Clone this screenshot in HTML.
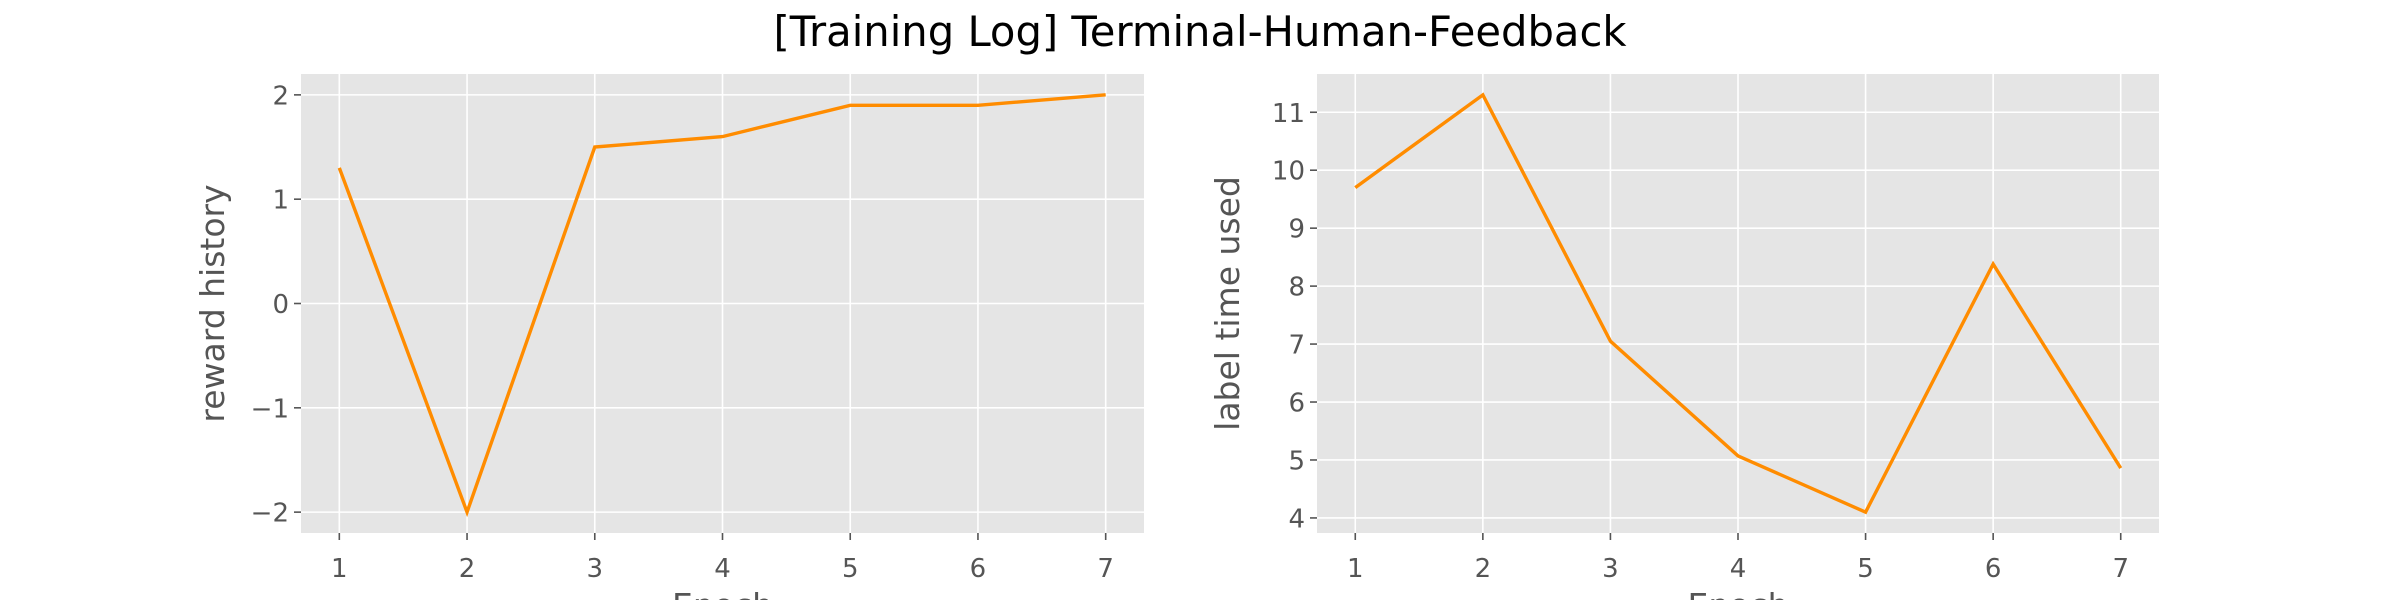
<!DOCTYPE html>
<html><head><meta charset="utf-8"><style>
body{margin:0;background:#fff}
svg text{font-family:"DejaVu Sans","Liberation Sans",sans-serif}
</style></head><body>
<svg id="fig" width="2400" height="600" viewBox="0 0 2400 600" xmlns="http://www.w3.org/2000/svg">
<text x="1200" y="46" font-size="41.7" text-anchor="middle" fill="#000">[Training Log] Terminal-Human-Feedback</text>
</svg>
<script>
const epochs = [1, 2, 3, 4, 5, 6, 7];
const rewardHistory = [1.3, -2.0, 1.5, 1.6, 1.9, 1.9, 2.0];
const labelTimeUsed = [9.7, 11.3, 7.05, 5.07, 4.1, 8.38, 4.86];
const xTicks = [1, 2, 3, 4, 5, 6, 7];
const rewardTicks = [-2, -1, 0, 1, 2];
const timeTicks = [4, 5, 6, 7, 8, 9, 10, 11];

const NS = 'http://www.w3.org/2000/svg';
const svg = document.getElementById('fig');
function mk(tag, attrs, parent) {
  const e = document.createElementNS(NS, tag);
  for (const k in attrs) e.setAttribute(k, attrs[k]);
  (parent || svg).appendChild(e);
  return e;
}
function fmt(v){ return v < 0 ? '\u2212' + Math.abs(v) : String(v); }

function drawPanel(prefix, L, R, T, B, ys, yTicks, ylabel, ylabelX) {
  const g = mk('g', {});
  
  
  const ymin = Math.min(...ys), ymax = Math.max(...ys), pad = (ymax - ymin) * 0.05;
  const y0 = ymin - pad, y1 = ymax + pad;
  const xs = epochs;
  const xmin = Math.min(...xs), xmax = Math.max(...xs), xpad = (xmax - xmin) * 0.05;
  const x0 = xmin - xpad, x1 = xmax + xpad;
  const sx = v => L + (v - x0) / (x1 - x0) * (R - L);
  const sy = v => B - (v - y0) / (y1 - y0) * (B - T);
  const bg = mk('rect', {x: L, y: T, width: R - L, height: B - T, fill: '#e5e5e5'}, g);
  
  
  xTicks.forEach(t => {
    const x = sx(t);
    mk('line', {x1: x, x2: x, y1: T, y2: B, stroke: '#fff', 'stroke-width': 1.6}, g);
    mk('line', {x1: x, x2: x, y1: B, y2: B + 7, stroke: '#555', 'stroke-width': 1.6}, g);
    const tl = mk('text', {x: x, y: B + 44, 'font-size': 26, fill: '#555', 'text-anchor': 'middle'}, g);
    tl.textContent = t;
    
    
  });
  yTicks.forEach(t => {
    const y = sy(t);
    mk('line', {x1: L, x2: R, y1: y, y2: y, stroke: '#fff', 'stroke-width': 1.6}, g);
    mk('line', {x1: L - 7, x2: L, y1: y, y2: y, stroke: '#555', 'stroke-width': 1.6}, g);
    const tl = mk('text', {x: L - 12, y: y + 9.5, 'font-size': 26, fill: '#555', 'text-anchor': 'end'}, g);
    tl.textContent = fmt(t);
    
    
  });
  const pts = xs.map((x, i) => sx(x) + ',' + sy(ys[i])).join(' ');
  const line = mk('polyline', {points: pts, fill: 'none', stroke: '#ff8c00', 'stroke-width': 3.4, 'stroke-linejoin': 'miter'}, g);
  
  
  const yl = mk('text', {x: 0, y: 0, 'font-size': 33, fill: '#555', 'text-anchor': 'middle',
    transform: 'translate(' + ylabelX + ',' + ((T + B) / 2) + ') rotate(-90)'}, g);
  yl.textContent = ylabel;
  
  
  const xl = mk('text', {x: (L + R) / 2, y: 617, 'font-size': 33, fill: '#555', 'text-anchor': 'middle'}, g);
  xl.textContent = 'Epoch';
  
  
}
drawPanel('reward', 301, 1144, 74, 533, rewardHistory, rewardTicks, 'reward history', 224);
drawPanel('label-time', 1317, 2159, 74, 533, labelTimeUsed, timeTicks, 'label time used', 1239);
</script>
</body></html>
